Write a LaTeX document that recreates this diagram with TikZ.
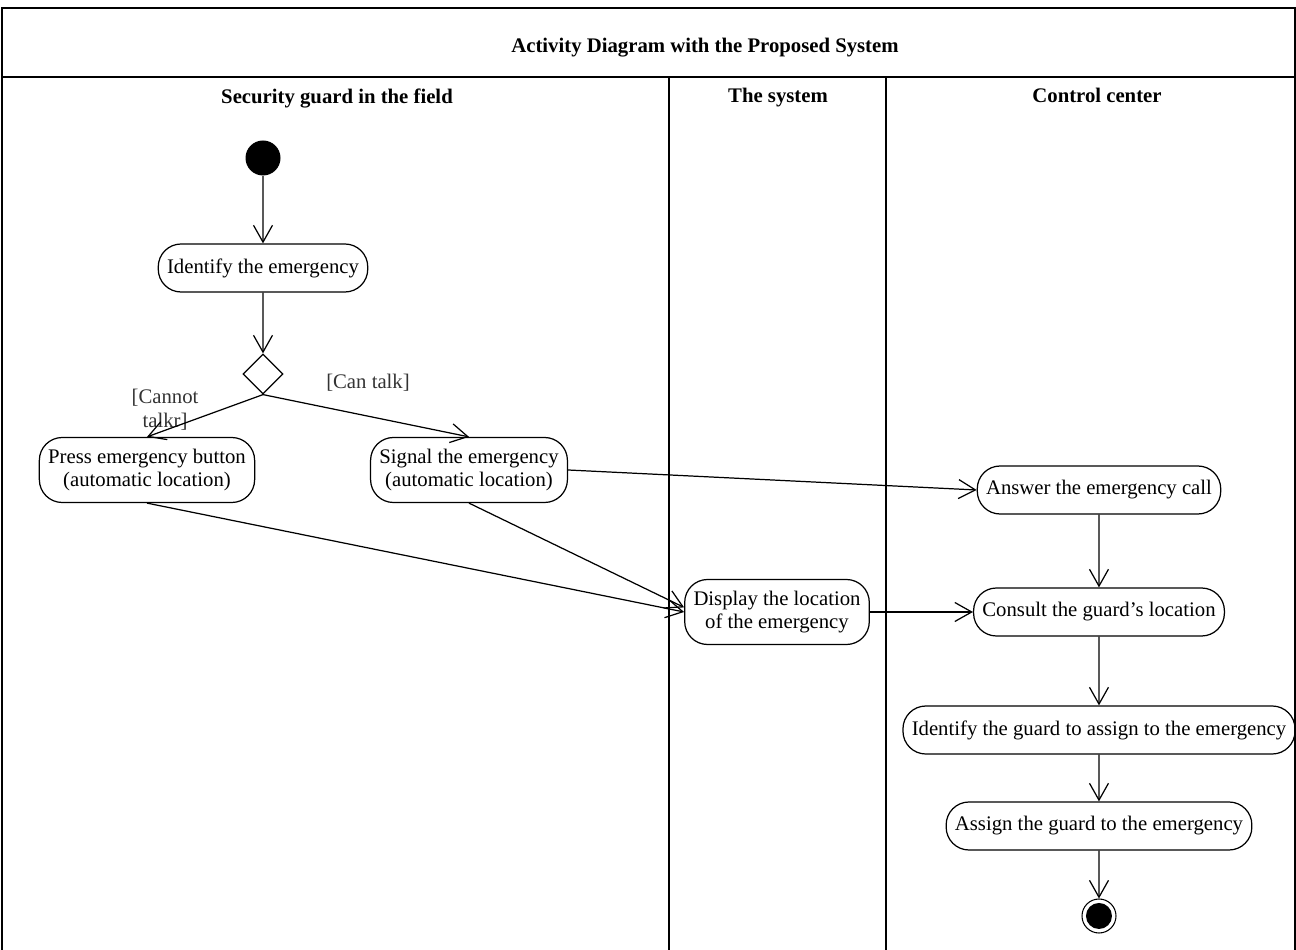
\documentclass[tikz,border=0pt]{standalone}
\usepackage{fontspec}
\setmainfont{Liberation Serif}
\usetikzlibrary{arrows.meta,shapes.geometric}

\begin{document}
\begin{tikzpicture}[scale=0.2]
\tikzstyle{every node}+=[font=\fontsize{11.8}{13.6}\selectfont]
\tikzstyle{head}=[font=\fontsize{11.8}{13.6}\selectfont\bfseries, text depth=0.3ex]
\tikzstyle{act}=[draw, rounded corners=13pt, minimum height=0.96cm, inner xsep=5pt, align=center, line width=0.7pt]
\tikzstyle{act2}=[act, minimum height=1.3cm]
\tikzstyle{guard}=[text=black!80, align=center]
\tikzstyle{flow}=[line width=0.7pt, -{Straight Barb[length=9.6pt,width=10.8pt]}]
\useasboundingbox (0,0) rectangle (129.6,-95);
\draw [line width=0.9pt] (0.2,-95) -- (0.2,-0.8) -- (129.5,-0.8) -- (129.5,-95);
\draw [line width=0.9pt] (0.2,-7.7) -- (129.5,-7.7);
\draw [line width=0.9pt] (66.9,-7.7) -- (66.9,-95);
\draw [line width=0.9pt] (88.6,-7.7) -- (88.6,-95);
\node [head] (title) at (70.5,-4.7) {Activity Diagram with the Proposed System};
\node [head] (guardlane) at (33.7,-9.7) {Security guard in the field};
\node [head] (systemlane) at (77.8,-9.7) {The system};
\node [head] (controllane) at (109.7,-9.7) {Control center};
\node [circle, fill, minimum size=0.7cm, inner sep=0pt] (start) at (26.3,-15.8) {};
\node [act] (ident) at (26.3,-26.8) {Identify the emergency};
\node [diamond, draw, aspect=1, minimum size=0.8cm, inner sep=0pt, line width=0.7pt] (dec) at (26.3,-37.4) {};
\node [act2] (press) at (14.7,-47.0) {Press emergency button\\(automatic location)};
\node [act2] (signal) at (46.9,-47.0) {Signal the emergency\\(automatic location)};
\node [act] (answer) at (109.9,-49.0) {Answer the emergency call};
\node [act2] (display) at (77.7,-61.2) {Display the location\\of the emergency};
\node [act] (consult) at (109.9,-61.2) {Consult the guard's location};
\node [act] (idguard) at (109.9,-73.0) {Identify the guard to assign to the emergency};
\node [act] (assign) at (109.9,-82.6) {Assign the guard to the emergency};
\node [circle, draw, minimum size=0.68cm, inner sep=0pt, line width=0.6pt] (end) at (109.9,-91.6) {};
\node [circle, fill, minimum size=0.52cm, inner sep=0pt] (endin) at (end.center) {};
\node [guard] (cantalk) at (36.8,-38.3) {[Can talk]};
\node [guard] (cannot) at (16.5,-41.0) {[Cannot\\talkr]};
\draw [flow] (start) -- (ident);
\draw [flow] (ident) -- (dec);
\draw [flow] (dec.south) -- (press.north);
\draw [flow] (dec.south) -- (signal.north);
\draw [flow] (signal.east) -- (answer.west);
\draw [flow] (signal.south) -- ([yshift=0.46cm]display.west);
\draw [flow] (press.south) -- (display.west);
\draw [flow] (display.east) -- (consult.west);
\draw [flow] (answer) -- (consult);
\draw [flow] (consult) -- (idguard);
\draw [flow] (idguard) -- (assign);
\draw [flow] (assign) -- (end);
\end{tikzpicture}
\end{document}
